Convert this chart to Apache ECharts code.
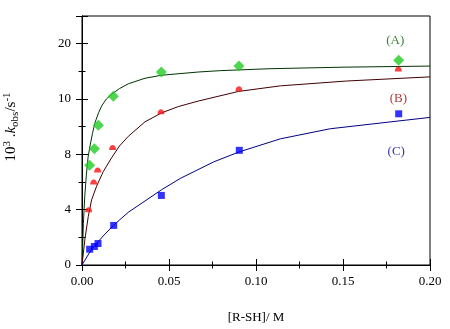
<!DOCTYPE html>
<html>
<head>
<meta charset="utf-8">
<script src="https://cdn.jsdelivr.net/npm/echarts@6/dist/echarts.min.js"></script>
<style>html,body{margin:0;padding:0;background:#fff;}#c{width:450px;height:329px;}</style>
</head>
<body>
<div id="c"></div>
<script>
// Measured points
var xA = [0.0044, 0.0071, 0.0094, 0.018, 0.0456, 0.0902, 0.182];
var yA = [7.21, 8.41, 10.1, 12.19, 13.95, 14.38, 14.81];
var xB = [0.0038, 0.0067, 0.009, 0.0176, 0.0454, 0.0902, 0.1818];
var yB = [4.0, 6.0, 6.86, 8.5, 11.07, 12.74, 14.17];
var xC = [0.0044, 0.0071, 0.0092, 0.0182, 0.0456, 0.0904, 0.182];
var yC = [1.14, 1.34, 1.55, 2.86, 5.03, 8.29, 10.93];

// Fitted curves
var fitAx = [0, 0.0008, 0.0016, 0.0025, 0.0035, 0.0046, 0.006, 0.0075, 0.0095, 0.0113, 0.014, 0.017, 0.0215, 0.0266, 0.0362, 0.0458, 0.0668, 0.0795, 0.108, 0.15, 0.2];
var fitAy = [0, 3.0, 5.0, 6.5, 7.8, 8.6, 9.5, 10.3, 11.0, 11.5, 12.0, 12.35, 12.75, 13.1, 13.5, 13.72, 13.95, 14.05, 14.19, 14.3, 14.38];
var fitBx = [0, 0.0017, 0.0036, 0.0055, 0.0084, 0.0122, 0.017, 0.0215, 0.0266, 0.0362, 0.0458, 0.0553, 0.0668, 0.09, 0.114, 0.152, 0.2];
var fitBy = [0, 1.9, 3.5, 4.7, 5.7, 6.75, 7.75, 8.6, 9.3, 10.35, 11.0, 11.45, 11.85, 12.55, 12.95, 13.3, 13.6];
var fitCx = [0, 0.0055, 0.0122, 0.018, 0.0266, 0.0456, 0.0565, 0.0756, 0.0902, 0.114, 0.1427, 0.2];
var fitCy = [0, 1.14, 2.1, 2.86, 3.81, 5.43, 6.26, 7.45, 8.17, 9.12, 9.85, 10.67];

// Curve labels
var curveNames = ['(A)', '(B)', '(C)'];
var curveLabelX = [0.18, 0.1818, 0.1806];
var curveLabelY = [16.2, 12.05, 8.2];

// Tick labels
var xTickValues = [0, 0.05, 0.1, 0.15, 0.2];
var xTickLabels = ['0.00', '0.05', '0.10', '0.15', '0.20'];
var yTickValues = [0, 4, 8, 12, 16];
var yTickLabels = ['0', '4', '8', '10', '20'];

function zip(a, b) { return a.map(function (v, i) { return [v, b[i]]; }); }
function lookup(vals, labels, v) {
  for (var i = 0; i < vals.length; i++) if (Math.abs(vals[i] - v) < 1e-9) return labels[i];
  return '';
}

var font = 'Liberation Serif';
var chart = echarts.init(document.getElementById('c'), null, {renderer: 'canvas'});

var tickCommon = {
  axisLine: {show: true, lineStyle: {color: '#000', width: 1}},
  axisTick: {show: true, inside: true, length: 6, lineStyle: {color: '#000', width: 1}},
  minorTick: {show: true, splitNumber: 2, length: 3.5, lineStyle: {color: '#000', width: 1}},
  splitLine: {show: false},
  minorSplitLine: {show: false}
};

var labelColors = ['#006600', '#990000', '#000099'];

var option = {
  animation: false,
  backgroundColor: '#fff',
  grid: {left: 82, right: 20, top: 16, bottom: 61, show: true, borderColor: '#000', borderWidth: 1, backgroundColor: 'transparent'},
  xAxis: [
    Object.assign({
      type: 'value', min: 0, max: 0.2, interval: 0.05, position: 'bottom',
      axisLabel: {color: '#000', fontFamily: font, fontSize: 13, margin: 10,
        formatter: function (v) { return lookup(xTickValues, xTickLabels, v); }},
      name: '[R-SH]/ M', nameLocation: 'middle', nameGap: 46,
      nameTextStyle: {color: '#000', fontFamily: font, fontSize: 13}
    }, tickCommon),
    Object.assign({
      type: 'value', min: 0, max: 0.2, interval: 0.05, position: 'top',
      axisLabel: {show: false}
    }, tickCommon)
  ],
  yAxis: [
    Object.assign({
      type: 'value', min: 0, max: 18, interval: 4, position: 'left',
      axisLabel: {color: '#000', fontFamily: font, fontSize: 13, margin: 11,
        formatter: function (v) { return lookup(yTickValues, yTickLabels, v); }}
    }, tickCommon),
    Object.assign({
      type: 'value', min: 0, max: 18, interval: 4, position: 'right',
      axisLabel: {show: false}
    }, tickCommon)
  ],
  graphic: [{
    type: 'text',
    x: 11, y: 127,
    rotation: Math.PI / 2,
    style: {
      text: '{n|10}{sup|3}{n| .}{k|k}{sub|obs}{n|/s}{sup|-1}',
      align: 'center', verticalAlign: 'middle',
      rich: {
        n: {fontFamily: font, fontSize: 15, fill: '#000'},
        k: {fontFamily: font, fontSize: 15, fontStyle: 'italic', fill: '#000'},
        sup: {fontFamily: font, fontSize: 11, fill: '#000', verticalAlign: 'top', padding: [0, 0, 8, 0]},
        sub: {fontFamily: font, fontSize: 11, fill: '#000', verticalAlign: 'bottom', padding: [4, 0, 0, 0]}
      }
    }
  }],
  series: [
    {type: 'line', data: zip(fitAx, fitAy), showSymbol: false, smooth: false, lineStyle: {color: '#003300', width: 1}, z: 2},
    {type: 'line', data: zip(fitBx, fitBy), showSymbol: false, smooth: false, lineStyle: {color: '#400000', width: 1}, z: 2},
    {type: 'line', data: zip(fitCx, fitCy), showSymbol: false, smooth: false, lineStyle: {color: '#000080', width: 1}, z: 2},
    {type: 'scatter', data: zip(xA, yA), symbol: 'diamond', symbolSize: [11, 11], itemStyle: {color: '#22cc22'}, z: 3},
    {type: 'scatter', data: zip(xB, yB), symbol: 'path://M0,10 C0,-2 10,-2 10,10 Z', symbolSize: [7, 5], itemStyle: {color: '#ff1010'}, z: 3},
    {type: 'scatter', data: zip(xC, yC), symbol: 'rect', symbolSize: [7, 7], itemStyle: {color: '#0000ff'}, z: 3},
    {type: 'scatter', symbolSize: 0, z: 4,
      data: curveNames.map(function (n, i) {
        return {value: [curveLabelX[i], curveLabelY[i], n],
          label: {show: true, position: 'inside', formatter: function (p) { return p.value[2]; },
            color: labelColors[i], fontFamily: font, fontSize: 13}};
      })}
  ]
};
chart.setOption(option);
</script>
</body>
</html>
